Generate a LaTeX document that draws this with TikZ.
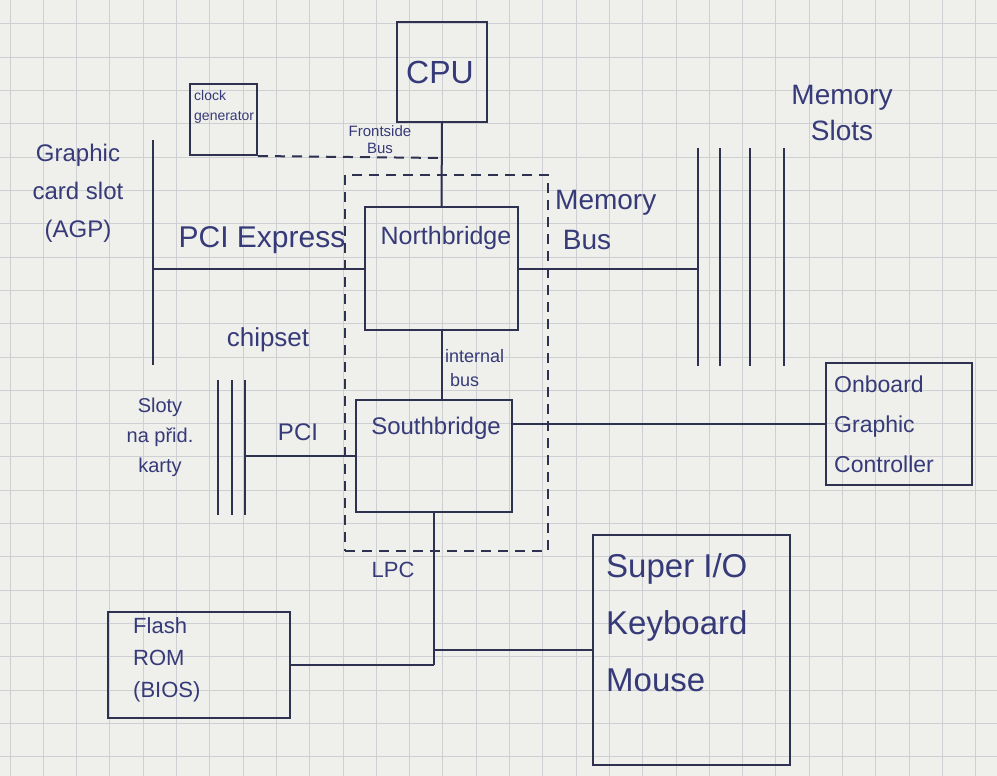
\documentclass[tikz,border=0pt]{standalone}
\usepackage{fontspec}
\setmainfont{Liberation Sans}
\usetikzlibrary{positioning}
\definecolor{PCPaper}{HTML}{EFEFEB}
\definecolor{PCGrid}{HTML}{CDCFD2}
\definecolor{PCInk}{HTML}{363A78}
\definecolor{PCPen}{HTML}{2E3150}
\tikzset{
  pen/.style={PCPen,line width=2pt},
  dashbus/.style={pen,dash pattern=on 10pt off 7pt},
  block/.style={draw=PCPen,line width=2pt,inner sep=0pt},
  dashblock/.style={block,dash pattern=on 10pt off 7pt},
  gridline/.style={PCGrid,line width=1pt},
  ink/.style={text=PCInk,inner sep=0pt,align=center},
  inkleft/.style={ink,align=left},
}
\newcommand{\hand}[2]{\fontsize{#1}{#2}\selectfont}

\begin{document}
\begin{tikzpicture}[x=1pt,y=-1pt]
  \useasboundingbox (0,0) rectangle (997,776);
  \fill[PCPaper] (0,0) rectangle (997,776);
  % squared paper
  \foreach \gx in {0,...,29} \draw[gridline] ({10+33.3*\gx},0) -- ({10+33.3*\gx},776);
  \foreach \gy in {0,...,23} \draw[gridline] (0,{24+33.3*\gy}) -- (997,{24+33.3*\gy});

  % boxes
  \node[block,minimum width=90pt,minimum height=100pt] (cpu) at (442,72) {};
  \node[ink,font=\hand{32}{36}] (cputxt) at (440,72) {CPU};

  \node[block,minimum width=67pt,minimum height=71pt] (clock) at (223.5,119.5) {};
  \node[inkleft,font=\hand{14}{20},anchor=north west] (clocktxt) at (194,90) {clock\\generator};

  \node[dashblock,minimum width=203pt,minimum height=376pt] (chipset) at (446.5,363) {};

  \node[block,minimum width=153pt,minimum height=123pt] (nb) at (441.5,268.5) {};
  \node[ink,font=\hand{25}{28}] (nbtxt) at (446,238) {Northbridge};

  \node[block,minimum width=156pt,minimum height=112pt] (sb) at (434,456) {};
  \node[ink,font=\hand{24}{28}] (sbtxt) at (436,428) {Southbridge};

  \node[block,minimum width=146pt,minimum height=122pt] (ogc) at (899,424) {};
  \node[inkleft,font=\hand{23}{40},anchor=west] (ogctxt) at (834,424) {Onboard\\Graphic\\Controller};

  \node[block,minimum width=182pt,minimum height=106pt] (flash) at (199,665) {};
  \node[inkleft,font=\hand{22}{32},anchor=north west] (flashtxt) at (133,617) {Flash\\ROM\\(BIOS)};

  \node[block,minimum width=197pt,minimum height=230pt] (sio) at (691.5,650) {};
  \node[inkleft,font=\hand{33}{57},anchor=north west] (siotxt) at (606,553) {Super I/O\\Keyboard\\Mouse};

  % slots
  \foreach \mx [count=\mi] in {698,720,750,784} {
    \coordinate (ms\mi) at (\mx,148);
    \draw[pen] (\mx,148) -- (\mx,366);
  }
  \foreach \px [count=\pi] in {218,232,245} {
    \coordinate (ps\pi) at (\px,380);
    \draw[pen] (\px,380) -- (\px,515);
  }
  \coordinate (agp) at (153,140);
  \draw[pen] (agp) -- (153,365);

  % buses
  \coordinate (fsb) at (442,158);
  \draw[pen] (cpu.south) -- (nb.north);
  \draw[dashbus] (clock.south east) -- (fsb);
  \draw[pen] (nb.east) -- (nb.east -| ms1);
  \draw[pen] (nb.west) -- (nb.west -| agp);
  \draw[pen] (nb.south) -- (nb.south |- sb.north);
  \draw[pen] (sb.west) -- (sb.west -| ps3);
  \draw[pen] (ogc.west -| sb.east) -- (ogc.west);
  \coordinate (lpc) at (flash.east -| sb.south);
  \draw[pen] (sb.south) -- (lpc);
  \draw[pen] (flash.east) -- (lpc);
  \draw[pen] (sio.west -| sb.south) -- (sio.west);

  % labels
  \node[ink,font=\hand{15}{17}] (fsbtxt) at (380,140) {Frontside\\Bus};
  \node[inkleft,font=\hand{28}{40},anchor=west] (mbtxt) at (555,220) {Memory\\\ Bus};
  \node[ink,font=\hand{28}{36}] (mstxt) at (842,113) {Memory\\Slots};
  \node[ink,font=\hand{24}{38}] (agptxt) at (78,193) {Graphic\\card slot\\(AGP)};
  \node[ink,font=\hand{30}{34}] (pcietxt) at (262,240) {PCI Express};
  \node[ink,font=\hand{26}{30}] (chiptxt) at (268,340) {chipset};
  \node[inkleft,font=\hand{18}{24},anchor=west] (ibtxt) at (445,368) {internal\\\ bus};
  \node[ink,font=\hand{24}{28}] (pcitxt) at (298,432) {PCI};
  \node[ink,font=\hand{20}{30}] (slottxt) at (160,437) {Sloty\\na přid.\\karty};
  \node[ink,font=\hand{22}{26}] (lpctxt) at (393,570) {LPC};
\end{tikzpicture}
\end{document}
